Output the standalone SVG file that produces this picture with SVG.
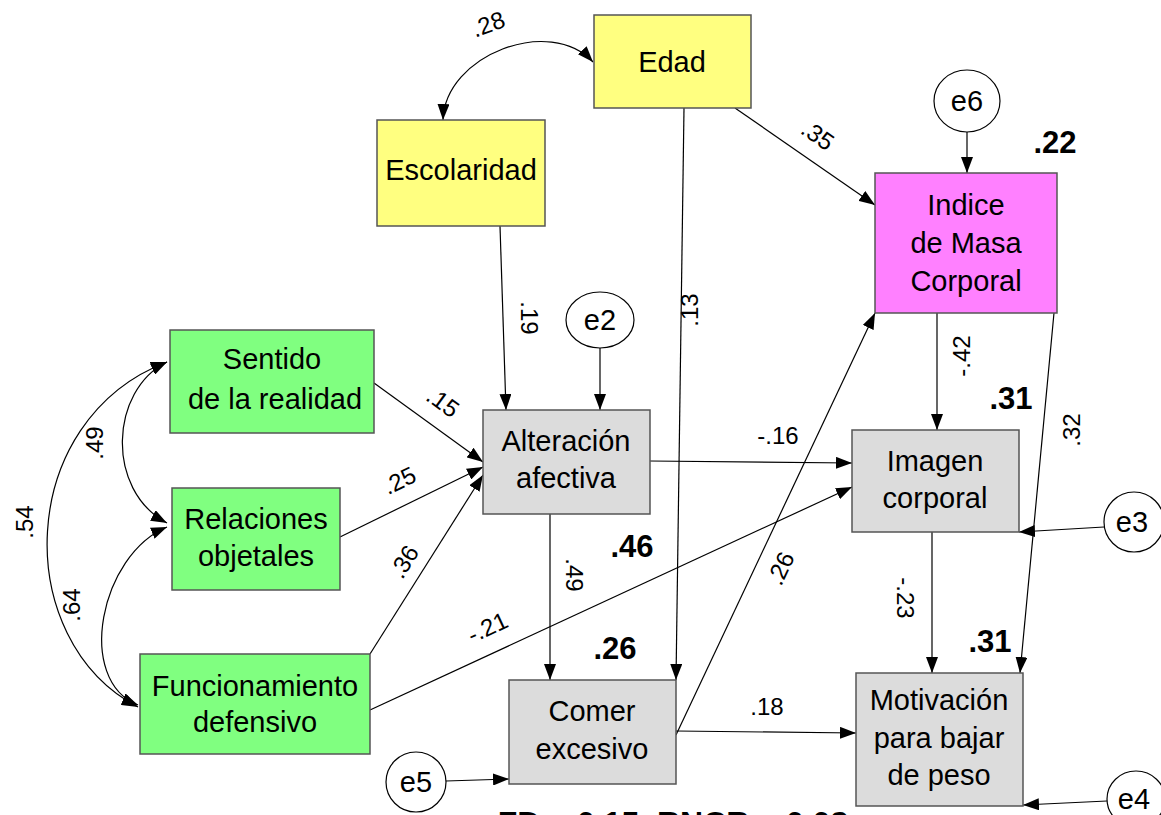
<svg xmlns="http://www.w3.org/2000/svg" width="1161" height="815" viewBox="0 0 1161 815">
<defs>
<marker id="ah" markerWidth="16" markerHeight="12" refX="16" refY="6" orient="auto-start-reverse" markerUnits="userSpaceOnUse">
<path d="M0,0 L16,6 L0,12 Z" fill="#000"/>
</marker>
<style>
.box{stroke:#555;stroke-width:1.5}
.yel{fill:#FFFF80}.mag{fill:#FF80FF}.grn{fill:#80FF80}.gry{fill:#DCDCDC}
.err{fill:#fff;stroke:#000;stroke-width:1.2}
.t{font-family:"Liberation Sans",Arial,sans-serif;font-size:29px;fill:#000;text-anchor:middle}
.l{font-family:"Liberation Sans",Arial,sans-serif;font-size:24px;fill:#000;text-anchor:middle}
.r{font-family:"Liberation Sans",Arial,sans-serif;font-size:31px;font-weight:bold;fill:#000;text-anchor:middle}
.c{fill:none;stroke:#000;stroke-width:1.2;marker-end:url(#ah)}
.cv{fill:none;stroke:#000;stroke-width:1.2;marker-end:url(#ah);marker-start:url(#ah)}
</style>
</defs>
<rect width="1161" height="815" fill="#fff"/>
<g id="connectors">
<path class="cv" d="M443,120 C445,55 550,15 593,62"/>
<path class="cv" d="M167,362 C110,390 105,490 167,523"/>
<path class="cv" d="M167,527 C100,555 75,680 138,705"/>
<path class="cv" d="M167,362 C15,420 10,640 138,707"/>
<path class="c" d="M735,108 L875,205"/>
<path class="c" d="M684,108 L676,680"/>
<path class="c" d="M500,226 L506,410"/>
<path class="c" d="M600,348 L600,410"/>
<path class="c" d="M967,132 L967,173"/>
<path class="c" d="M374,383 L483,462"/>
<path class="c" d="M340,537 L483,467"/>
<path class="c" d="M370,654 L483,475"/>
<path class="c" d="M650,461 L852,463"/>
<path class="c" d="M370,710 L852,487"/>
<path class="c" d="M550,514 L550,680"/>
<path class="c" d="M676,735 L875,313"/>
<path class="c" d="M937,313 L937,430"/>
<path class="c" d="M1054,313 L1020,673"/>
<path class="c" d="M932,532 L932,673"/>
<path class="c" d="M1104,527 L1019,532"/>
<path class="c" d="M1107,801 L1023,805"/>
<path class="c" d="M676,731 L856,733"/>
<path class="c" d="M446,781 L509,779"/>
</g>
<g id="labels">
<text class="l" transform="translate(491,32) rotate(-20)">.28</text>
<text class="l" transform="translate(813,142) rotate(35)">.35</text>
<text class="l" transform="translate(698,310) rotate(-90)">.13</text>
<text class="l" transform="translate(521,318) rotate(90)">.19</text>
<text class="l" transform="translate(438,409) rotate(36)">.15</text>
<text class="l" transform="translate(403,488) rotate(-26)">.25</text>
<text class="l" transform="translate(411,566) rotate(-58)">.36</text>
<text class="l" transform="translate(778,444)">-.16</text>
<text class="l" transform="translate(491,635) rotate(-25)">-.21</text>
<text class="l" transform="translate(566,575) rotate(90)">.49</text>
<text class="l" transform="translate(788,572) rotate(-65)">.26</text>
<text class="l" transform="translate(970,356) rotate(-90)">-.42</text>
<text class="l" transform="translate(1080,430) rotate(-90)">.32</text>
<text class="l" transform="translate(897,598) rotate(90)">-.23</text>
<text class="l" transform="translate(767,715)">.18</text>
<text class="l" transform="translate(103,443) rotate(-90)">.49</text>
<text class="l" transform="translate(80,605) rotate(-90)">.64</text>
<text class="l" transform="translate(33,522) rotate(-90)">.54</text>
<text class="r" x="1055" y="153">.22</text>
<text class="r" x="1011" y="409">.31</text>
<text class="r" x="632" y="557">.46</text>
<text class="r" x="615" y="659">.26</text>
<text class="r" x="990" y="652">.31</text>
<text class="r" x="673" y="834" style="font-size:32px">FD = 0.15, RNCR = 0.08</text>
</g>
<g id="edad"><rect class="box yel" x="594" y="15" width="157" height="93"/><text class="t" x="672" y="72">Edad</text></g>
<g id="escolaridad"><rect class="box yel" x="377" y="120" width="168" height="106"/><text class="t" x="461" y="180">Escolaridad</text></g>
<g id="imc"><rect class="box mag" x="875" y="173" width="182" height="140"/><text class="t" x="966" y="215">Indice</text><text class="t" x="966" y="253">de Masa</text><text class="t" x="966" y="291">Corporal</text></g>
<g id="sentido"><rect class="box grn" x="170" y="330" width="204" height="103"/><text class="t" x="272" y="369">Sentido</text><text class="t" x="275" y="409">de la realidad</text></g>
<g id="relaciones"><rect class="box grn" x="172" y="488" width="168" height="102"/><text class="t" x="256" y="529">Relaciones</text><text class="t" x="256" y="566">objetales</text></g>
<g id="funcionamiento"><rect class="box grn" x="140" y="654" width="230" height="100"/><text class="t" x="255" y="696">Funcionamiento</text><text class="t" x="255" y="732">defensivo</text></g>
<g id="alteracion"><rect class="box gry" x="483" y="410" width="167" height="104"/><text class="t" x="566" y="451">Alteración</text><text class="t" x="566" y="488">afectiva</text></g>
<g id="imagen"><rect class="box gry" x="852" y="430" width="167" height="102"/><text class="t" x="935" y="471">Imagen</text><text class="t" x="935" y="508">corporal</text></g>
<g id="comer"><rect class="box gry" x="509" y="680" width="167" height="104"/><text class="t" x="592" y="721">Comer</text><text class="t" x="592" y="759">excesivo</text></g>
<g id="motivacion"><rect class="box gry" x="856" y="673" width="167" height="133"/><text class="t" x="939" y="710">Motivación</text><text class="t" x="939" y="748">para bajar</text><text class="t" x="939" y="785">de peso</text></g>
<g id="e6"><ellipse class="err" cx="967" cy="101" rx="33" ry="31"/><text class="t" x="967" y="111">e6</text></g>
<g id="e2"><ellipse class="err" cx="600" cy="320" rx="34" ry="28"/><text class="t" x="600" y="330">e2</text></g>
<g id="e3"><ellipse class="err" cx="1134" cy="522" rx="30" ry="30"/><text class="t" x="1132" y="532">e3</text></g>
<g id="e4"><ellipse class="err" cx="1136" cy="799" rx="29" ry="28"/><text class="t" x="1134" y="809">e4</text></g>
<g id="e5"><ellipse class="err" cx="416" cy="782" rx="30" ry="30"/><text class="t" x="416" y="792">e5</text></g>
</svg>
